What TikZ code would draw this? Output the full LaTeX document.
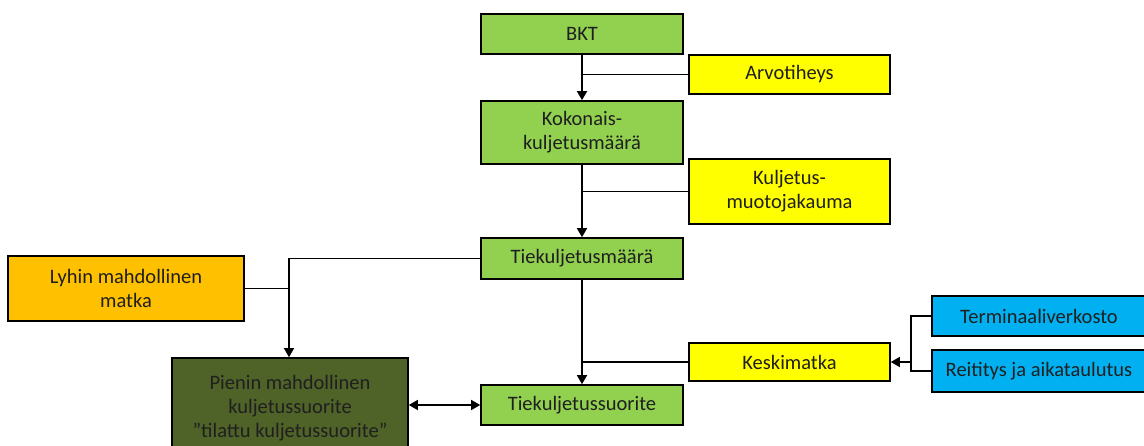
\documentclass[tikz,border=0pt]{standalone}
\usepackage{fontspec}
\setmainfont{Carlito}
\usetikzlibrary{arrows.meta}
\definecolor{cgreen}{HTML}{92D050}
\definecolor{cyellow}{HTML}{FFFF00}
\definecolor{corange}{HTML}{FFC000}
\definecolor{cblue}{HTML}{00B0F0}
\definecolor{cdark}{HTML}{4F6228}
\tikzset{
  box/.style={draw=black, line width=1.6pt, align=center, inner sep=0pt,
    font=\fontsize{20.5}{24}\selectfont, text=black!88},
  conn/.style={line width=1.5pt, draw=black},
  arr/.style={conn, -{Triangle[width=10pt,length=9pt]}},
  darr/.style={conn, {Triangle[width=10pt,length=9pt]}-{Triangle[width=10pt,length=9pt]}}
}
\begin{document}
\begin{tikzpicture}[x=1pt,y=-1pt]
\path[use as bounding box, clip] (0,0) rectangle (1144,446);
\node[box, fill=cgreen, minimum width=202pt, minimum height=40pt] (bkt) at (582,34) {BKT};
\node[box, fill=cyellow, minimum width=201pt, minimum height=39pt] (arv) at (789.5,74.5) {Arvotiheys};
\node[box, fill=cgreen, minimum width=202pt, minimum height=63pt] (kok) at (582,132.5) {Kokonais-\\kuljetusmäärä};
\node[box, fill=cyellow, minimum width=201pt, minimum height=65pt] (kmj) at (789.5,191.5) {Kuljetus-\\muotojakauma};
\node[box, fill=cgreen, minimum width=202pt, minimum height=41pt] (tkm) at (582,258.5) {Tiekuljetusmäärä};
\node[box, fill=corange, minimum width=236pt, minimum height=65pt] (lyh) at (126,288.5) {Lyhin mahdollinen\\matka};
\node[box, fill=cdark, minimum width=236pt, minimum height=100pt] (pie) at (290,408) {Pienin mahdollinen\\kuljetussuorite\\”tilattu kuljetussuorite”};
\node[box, fill=cgreen, minimum width=202pt, minimum height=40pt] (tks) at (582,405) {Tiekuljetussuorite};
\node[box, fill=cyellow, minimum width=201pt, minimum height=38pt] (kes) at (789.5,362) {Keskimatka};
\node[box, fill=cblue, minimum width=214pt, minimum height=40pt] (ter) at (1039,316) {Terminaaliverkosto};
\node[box, fill=cblue, minimum width=214pt, minimum height=42pt] (rei) at (1039,371) {Reititys ja aikataulutus};

\coordinate (j1) at (582,74.5);
\coordinate (j2) at (582,191.5);
\coordinate (j3) at (582,362);
\coordinate (j4) at (289,258.5);
\coordinate (j5) at (289,288.5);
\coordinate (j6) at (912,362);

\draw[arr] (bkt.south) -- (kok.north);
\draw[conn] (arv.west) -- (j1);
\draw[arr] (kok.south) -- (tkm.north);
\draw[conn] (kmj.west) -- (j2);
\draw[arr] (tkm.south) -- (tks.north);
\draw[conn] (kes.west) -- (j3);
\draw[arr] (tkm.west) -- (j4) -- (pie.north -| j4);
\draw[conn] (lyh.east) -- (j5);
\draw[darr] (pie.east |- tks.west) -- (tks.west);
\draw[conn] (ter.west) -- ++(-20,0) |- (rei.west);
\draw[arr] (j6) -- (kes.east);
\end{tikzpicture}
\end{document}
